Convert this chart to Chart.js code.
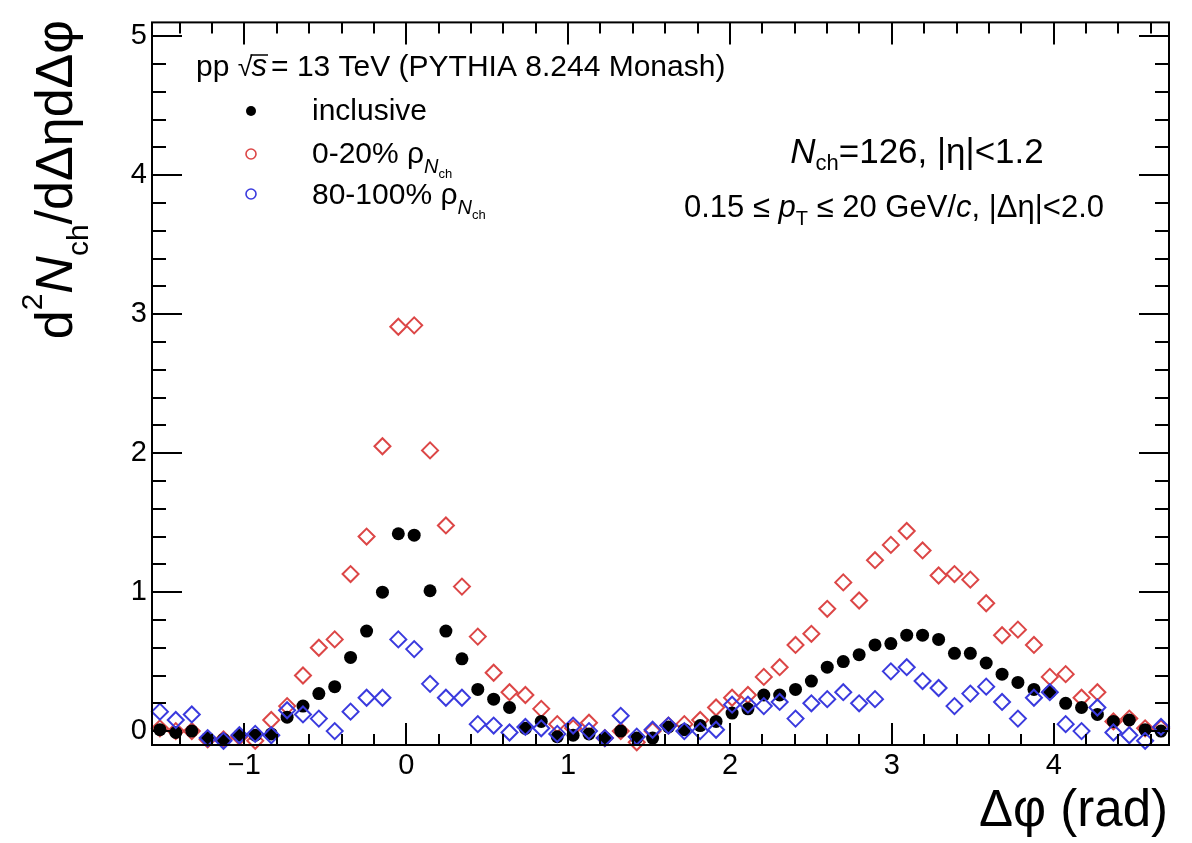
<!DOCTYPE html>
<html>
<head>
<meta charset="utf-8">
<script src="https://cdn.jsdelivr.net/npm/chart.js@4.4.1/dist/chart.umd.min.js"></script>
<style>
  html, body { margin: 0; padding: 0; background: #fff; }
  #wrap { width: 1192px; height: 843px; }
</style>
</head>
<body>
<div id="wrap"><canvas id="corrChart" width="1192" height="843"></canvas></div>
<script>
// bin centres in delta phi (64 bins from -pi/2 to 3pi/2)
const dphi = [
  -1.522, -1.424, -1.325, -1.227, -1.129, -1.031, -0.933, -0.834,
  -0.736, -0.638, -0.540, -0.442, -0.344, -0.245, -0.147, -0.049,
   0.049,  0.147,  0.245,  0.344,  0.442,  0.540,  0.638,  0.736,
   0.834,  0.933,  1.031,  1.129,  1.227,  1.325,  1.424,  1.522,
   1.620,  1.718,  1.816,  1.914,  2.013,  2.111,  2.209,  2.307,
   2.405,  2.503,  2.601,  2.700,  2.798,  2.896,  2.994,  3.092,
   3.190,  3.289,  3.387,  3.485,  3.583,  3.681,  3.779,  3.878,
   3.976,  4.074,  4.172,  4.270,  4.369,  4.467,  4.565,  4.663
];

const inclusive = [
   0.01, -0.01,  0.00, -0.05, -0.06, -0.03, -0.03, -0.02,
   0.10,  0.18,  0.27,  0.32,  0.53,  0.72,  1.00,  1.42,
   1.41,  1.01,  0.72,  0.52,  0.30,  0.23,  0.17,  0.02,
   0.07, -0.04, -0.03, -0.02, -0.05,  0.00, -0.05, -0.05,
   0.03,  0.01,  0.04,  0.07,  0.13,  0.16,  0.26,  0.26,
   0.30,  0.36,  0.46,  0.50,  0.55,  0.62,  0.63,  0.69,
   0.69,  0.66,  0.56,  0.56,  0.49,  0.41,  0.35,  0.30,
   0.28,  0.20,  0.17,  0.12,  0.07,  0.08,  0.01,  0.00
];

// 0-20% rho_Nch
const highRho = [
   0.02,  0.00,  0.00, -0.06, -0.06, -0.04, -0.07,  0.08,
   0.18,  0.40,  0.60,  0.66,  1.13,  1.40,  2.05,  2.91,
   2.92,  2.02,  1.48,  1.04,  0.68,  0.42,  0.28,  0.26,
   0.16,  0.05,  0.02,  0.06, -0.05,  0.00, -0.08,  0.00,
   0.04,  0.05,  0.08,  0.17,  0.24,  0.26,  0.39,  0.46,
   0.62,  0.70,  0.88,  1.07,  0.94,  1.23,  1.34,  1.44,
   1.30,  1.12,  1.13,  1.09,  0.92,  0.69,  0.73,  0.62,
   0.39,  0.41,  0.24,  0.28,  0.07,  0.09,  0.02,  0.02
];

// 80-100% rho_Nch
const lowRho = [
   0.14,  0.08,  0.12, -0.05, -0.07, -0.03, -0.02, -0.03,
   0.15,  0.12,  0.09,  0.00,  0.14,  0.24,  0.24,  0.66,
   0.59,  0.34,  0.24,  0.24,  0.05,  0.04, -0.01,  0.03,
   0.02, -0.02,  0.04,  0.00, -0.05,  0.11, -0.04,  0.01,
   0.04,  0.00,  0.00,  0.01,  0.19,  0.19,  0.18,  0.21,
   0.09,  0.20,  0.23,  0.28,  0.20,  0.23,  0.43,  0.46,
   0.36,  0.31,  0.18,  0.27,  0.32,  0.21,  0.09,  0.24,
   0.28,  0.05,  0.00,  0.17, -0.01, -0.03, -0.07,  0.03
];

const xTicks = [-1, 0, 1, 2, 3, 4];
const yTicks = [0, 1, 2, 3, 4, 5];
const xMin = -Math.PI / 2;
const xMax = 3 * Math.PI / 2;
const yMin = -0.1;
const yMax = 5.1;

const FONT = "'Liberation Sans', Arial, Helvetica, sans-serif";
const RED = '#dc4646';
const BLUE = '#3a3ade';

function toPoints(values) {
  return values.map((v, i) => ({ x: dphi[i], y: v }));
}

function font(size, italic) {
  return (italic ? 'italic ' : '') + size + 'px ' + FONT;
}

// draw a run of text pieces [{t, s, i, dy}] starting at (x, y)
function drawRuns(ctx, x, y, runs) {
  let cx = x;
  for (const r of runs) {
    ctx.font = font(r.s, r.i);
    ctx.fillText(r.t, cx, y + (r.dy || 0));
    cx += ctx.measureText(r.t).width + (r.gap || 0);
  }
  return cx;
}

function runsWidth(ctx, runs) {
  let w = 0;
  for (const r of runs) {
    ctx.font = font(r.s, r.i);
    w += ctx.measureText(r.t).width + (r.gap || 0);
  }
  return w;
}

const framePlugin = {
  id: 'framePlugin',
  afterDraw(chart) {
    const { ctx, chartArea: a, scales } = chart;
    const x = scales.x, y = scales.y;
    ctx.save();
    ctx.strokeStyle = '#000';
    ctx.lineWidth = 2;
    ctx.strokeRect(a.left, a.top, a.right - a.left, a.bottom - a.top);

    ctx.beginPath();
    for (let k = -10; k <= 25; k++) {
      const v = k * 0.2;
      if (v < xMin || v > xMax) continue;
      const px = Math.round(x.getPixelForValue(v));
      const len = k % 5 === 0 ? 22 : 11;
      ctx.moveTo(px, a.bottom); ctx.lineTo(px, a.bottom - len);
      ctx.moveTo(px, a.top); ctx.lineTo(px, a.top + len);
    }
    for (let k = 0; k <= 25; k++) {
      const v = k * 0.2;
      if (v < yMin || v > yMax) continue;
      const py = Math.round(y.getPixelForValue(v));
      const len = k % 5 === 0 ? 30 : 14;
      ctx.moveTo(a.left, py); ctx.lineTo(a.left + len, py);
      ctx.moveTo(a.right, py); ctx.lineTo(a.right - len, py);
    }
    ctx.stroke();

    ctx.fillStyle = '#000';
    ctx.textBaseline = 'alphabetic';
    ctx.textAlign = 'left';

    // y axis title (rotated)
    const yTitle = [
      { t: 'd', s: 52 },
      { t: '2', s: 30, dy: -30 },
      { t: 'N', s: 52, i: true },
      { t: 'ch', s: 30, dy: 16 },
      { t: '/d\u0394\u03b7d\u0394\u03c6', s: 52 }
    ];
    const yw = runsWidth(ctx, yTitle);
    ctx.save();
    ctx.translate(72, 20 + yw);
    ctx.rotate(-Math.PI / 2);
    drawRuns(ctx, 0, 0, yTitle);
    ctx.restore();

    // x axis title
    const xTitle = [{ t: '\u0394\u03c6 (rad)', s: 51 }];
    drawRuns(ctx, 1168 - runsWidth(ctx, xTitle), 826, xTitle);

    // header line with sqrt(s)
    let cx = drawRuns(ctx, 196, 76, [{ t: 'pp ', s: 30 }]);
    const sqrtEnd = drawRuns(ctx, cx, 76, [{ t: '\u221a', s: 27 }]);
    const sEnd = drawRuns(ctx, sqrtEnd - 1, 76, [{ t: 's', s: 31, i: true }]);
    ctx.lineWidth = 1.5;
    ctx.beginPath();
    ctx.moveTo(sqrtEnd - 2, 55);
    ctx.lineTo(sEnd + 1, 55);
    ctx.stroke();
    drawRuns(ctx, sEnd + 4, 76, [{ t: '= 13 TeV (PYTHIA 8.244 Monash)', s: 30 }]);

    // legend markers
    ctx.beginPath();
    ctx.arc(251, 111, 5, 0, 2 * Math.PI);
    ctx.fill();
    ctx.lineWidth = 1.6;
    ctx.strokeStyle = RED;
    ctx.beginPath();
    ctx.arc(251, 154, 5, 0, 2 * Math.PI);
    ctx.stroke();
    ctx.strokeStyle = BLUE;
    ctx.beginPath();
    ctx.arc(251, 194, 5, 0, 2 * Math.PI);
    ctx.stroke();

    // legend labels
    drawRuns(ctx, 312, 120, [{ t: 'inclusive', s: 30 }]);
    drawRuns(ctx, 312, 163, [
      { t: '0-20% \u03c1', s: 30 },
      { t: 'N', s: 20, i: true, dy: 10 },
      { t: 'ch', s: 13, dy: 15 }
    ]);
    drawRuns(ctx, 312, 204, [
      { t: '80-100% \u03c1', s: 30 },
      { t: 'N', s: 20, i: true, dy: 10 },
      { t: 'ch', s: 13, dy: 15 }
    ]);

    // right-hand annotations
    const line1 = [
      { t: 'N', s: 35, i: true },
      { t: 'ch', s: 22, dy: 7 },
      { t: '=126, |\u03b7|<1.2', s: 35 }
    ];
    drawRuns(ctx, 917 - runsWidth(ctx, line1) / 2, 163, line1);
    const line2 = [
      { t: '0.15 \u2264 ', s: 31 },
      { t: 'p', s: 31, i: true },
      { t: 'T', s: 20, dy: 8 },
      { t: ' \u2264 20 GeV/', s: 31 },
      { t: 'c', s: 31, i: true },
      { t: ', |\u0394\u03b7|<2.0', s: 31 }
    ];
    drawRuns(ctx, 894 - runsWidth(ctx, line2) / 2, 217, line2);

    ctx.restore();
  }
};

const ctx = document.getElementById('corrChart');
new Chart(ctx, {
  type: 'scatter',
  data: {
    datasets: [
      {
        label: '80-100% rho',
        data: toPoints(lowRho),
        pointStyle: 'rectRot',
        pointRadius: 8,
        borderColor: BLUE,
        backgroundColor: 'rgba(255,255,255,0)',
        borderWidth: 2,
        clip: false,
        order: 1
      },
      {
        label: 'inclusive',
        data: toPoints(inclusive),
        pointStyle: 'circle',
        pointRadius: 6.5,
        borderColor: '#000',
        backgroundColor: '#000',
        borderWidth: 0,
        clip: false,
        order: 2
      },
      {
        label: '0-20% rho',
        data: toPoints(highRho),
        pointStyle: 'rectRot',
        pointRadius: 8,
        borderColor: RED,
        backgroundColor: 'rgba(255,255,255,0)',
        borderWidth: 2,
        clip: false,
        order: 3
      }
    ]
  },
  options: {
    responsive: false,
    animation: false,
    devicePixelRatio: 1,
    layout: { padding: { left: 0, right: 23, top: 13, bottom: 0 } },
    plugins: {
      legend: { display: false },
      tooltip: { enabled: false }
    },
    scales: {
      x: {
        type: 'linear',
        min: xMin,
        max: xMax,
        afterBuildTicks: (scale) => { scale.ticks = xTicks.map(v => ({ value: v })); },
        afterFit: (scale) => { scale.height = 98; },
        grid: { display: false, drawTicks: false },
        border: { display: false },
        ticks: {
          color: '#000',
          font: { family: FONT, size: 29 },
          padding: 4,
          maxRotation: 0,
          autoSkip: false,
          callback: (v) => (v < 0 ? '\u2212' + Math.abs(v) : String(v))
        }
      },
      y: {
        type: 'linear',
        min: yMin,
        max: yMax,
        afterBuildTicks: (scale) => { scale.ticks = yTicks.map(v => ({ value: v })); },
        afterFit: (scale) => { scale.width = 152; },
        grid: { display: false, drawTicks: false },
        border: { display: false },
        ticks: {
          color: '#000',
          font: { family: FONT, size: 29 },
          padding: 5,
          autoSkip: false,
          callback: (v) => String(v)
        }
      }
    }
  },
  plugins: [framePlugin]
});
</script>
</body>
</html>
